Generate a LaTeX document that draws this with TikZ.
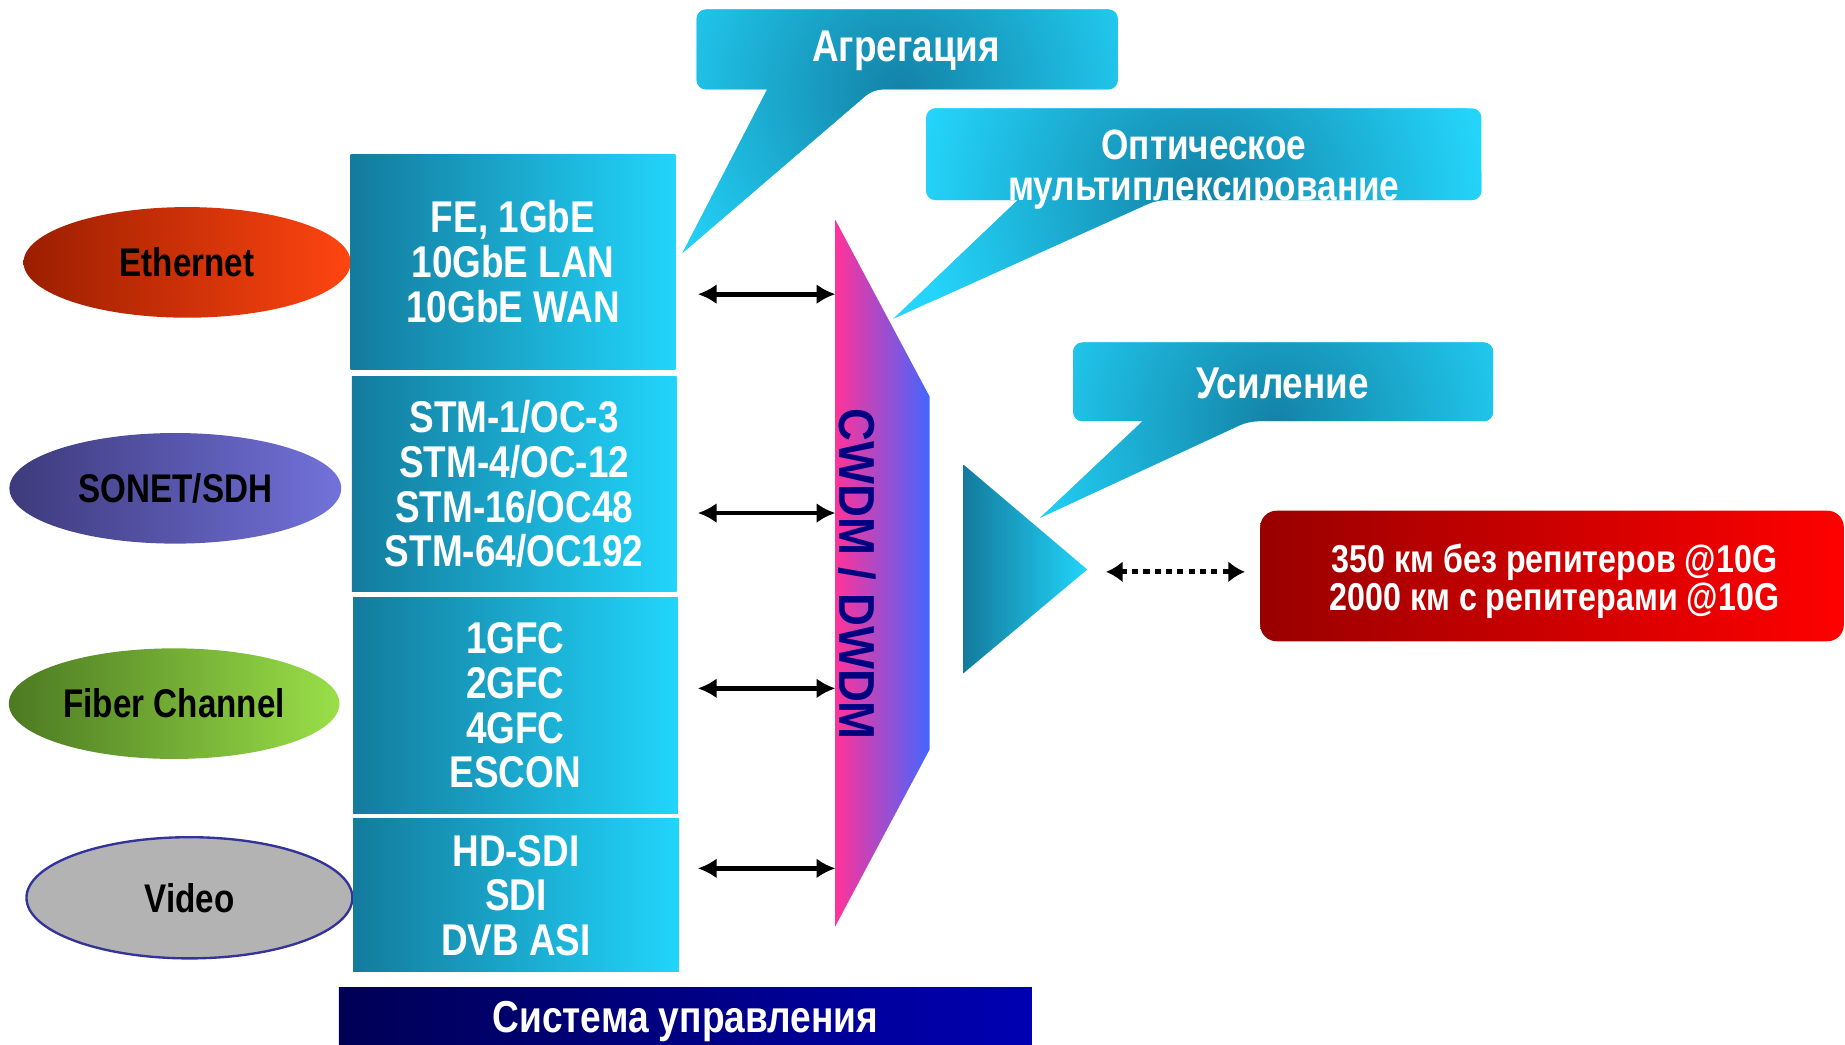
\documentclass[tikz,border=0pt]{standalone}
\usepackage{fontspec}
\setmainfont{Liberation Sans}[FakeStretch=0.83]
\newfontfamily\muxfont{Liberation Sans}[FakeStretch=0.9]
\usetikzlibrary{shapes.geometric,arrows.meta}

\definecolor{boxdark}{HTML}{137B9D}
\definecolor{boxlight}{HTML}{22D5FB}
\definecolor{calldark}{HTML}{1382A6}
\definecolor{calllight}{HTML}{24D4FA}
\definecolor{ethdark}{HTML}{9B1E00}
\definecolor{ethlight}{HTML}{FF4511}
\definecolor{sdhdark}{HTML}{3E3A7C}
\definecolor{sdhlight}{HTML}{7272DA}
\definecolor{fcdark}{HTML}{4C7A22}
\definecolor{fclight}{HTML}{9ADF48}
\definecolor{videogray}{HTML}{B3B3B3}
\definecolor{videoline}{HTML}{333399}
\definecolor{muxpink}{HTML}{FF3399}
\definecolor{muxblue}{HTML}{4466FF}
\definecolor{muxtext}{HTML}{000080}
\definecolor{reachdark}{HTML}{990000}
\definecolor{reachlight}{HTML}{FF0000}
\definecolor{mgmtdark}{HTML}{000055}
\definecolor{mgmtlight}{HTML}{0000B2}

\tikzset{
 service/.style = {ellipse, inner sep=0pt, minimum width=139pt,
           minimum height=47pt, font=\fontsize{17pt}{17pt}\selectfont\bfseries},
 client/.style = {rectangle, inner sep=0pt, minimum width=138pt,
           left color=boxdark, right color=boxlight, text=white, align=center,
           font=\fontsize{18.9pt}{19pt}\selectfont\bfseries},
 muxlabel/.style = {rotate=-90, text=muxtext,
           font=\muxfont\fontsize{21.5pt}{21.5pt}\selectfont\bfseries},
 note/.style = {text=white, align=center,
           font=\fontsize{18.9pt}{17.5pt}\selectfont\bfseries},
 reachbox/.style = {rectangle, rounded corners=7pt, inner sep=0pt,
           minimum width=248pt, minimum height=55.5pt,
           left color=reachdark, right color=reachlight},
 reachtext/.style = {text=white, align=center,
           font=\fontsize{16.5pt}{16.5pt}\selectfont\bfseries},
 mgmtbar/.style = {rectangle, inner sep=0pt, minimum width=294.5pt,
           minimum height=29pt, left color=mgmtdark, right color=mgmtlight,
           text=white, font=\fontsize{19pt}{19pt}\selectfont\bfseries},
 biarrow/.style = {{Latex[length=8pt,width=8.5pt]}-{Latex[length=8pt,width=8.5pt]},
           line width=2pt},
 dotarrow/.style = {{Latex[length=7pt,width=9pt]}-{Latex[length=7pt,width=9pt]},
           line width=2.2pt, dash pattern=on 2.6pt off 2.2pt}
}

\begin{document}
\begin{tikzpicture}[x=0.5pt, y=-0.5pt]
  \useasboundingbox (0,0) rectangle (1568,888);

  % Services
  \node[service, left color=ethdark, right color=ethlight] (eth) at (159,223)
  {Ethernet};
  \node[service, left color=sdhdark, right color=sdhlight, minimum width=141pt]
  (sdh) at (149,415) {SONET/SDH};
  \node[service, left color=fcdark, right color=fclight, minimum width=140.5pt]
  (fc) at (148,598) {Fiber Channel};
  \node[service, fill=videogray, draw=videoline, line width=1pt,
    minimum width=138.5pt, minimum height=51.5pt] (video) at (161,763)
  {Video};

  % Interfaces
  \node[client, minimum height=91.5pt] (fe) at (436,222.5)
  {FE, 1GbE\\10GbE LAN\\10GbE WAN};
  \node[client, minimum height=91.5pt] (stm) at (437,411.5)
  {STM-1/OC-3\\STM-4/OC-12\\STM-16/OC48\\STM-64/OC192};
  \node[client, minimum height=91.5pt] (gfc) at (438,599.5)
  {1GFC\\2GFC\\4GFC\\ESCON};
  \node[client, minimum height=65pt, minimum width=138.5pt] (sdi) at (438.5,761)
  {HD-SDI\\SDI\\DVB ASI};

  % Multiplexer
  \shade[left color=muxpink, right color=muxblue]
  (710,187) -- (790,337) -- (790,637) -- (710,787) -- cycle;
  \node[muxlabel] (mux) at (729,488) {CWDM / DWDM};

  \coordinate (s1) at (593,250); \coordinate (m1) at (710,250);
  \coordinate (s2) at (593,436); \coordinate (m2) at (710,436);
  \coordinate (s3) at (593,585); \coordinate (m3) at (710,585);
  \coordinate (s4) at (593,738); \coordinate (m4) at (710,738);
  \draw[biarrow] (s1) -- (m1);
  \draw[biarrow] (s2) -- (m2);
  \draw[biarrow] (s3) -- (m3);
  \draw[biarrow] (s4) -- (m4);

  % Amplifier
  \shade[left color=boxdark, right color=boxlight]
  (819,395) -- (819,572) -- (924,484) -- cycle;
  \coordinate (d1) at (940,486); \coordinate (d2) at (1058,486);
  \draw[dotarrow] (d1) -- (d2);

  \node[reachbox] (reach) at (1319,489.5) {};
  \node[reachtext] (reachtxt) at (1321,494)
  {350 км без репитеров @10G\\2000 км с репитерами @10G};

  % Callouts
  \begin{scope}
    \clip (652,76) [rounded corners=4pt] -- (592,76) -- (592,8) -- (950,8)
    -- (950,76) -- (742,76) [sharp corners] -- (580,215) -- cycle;
    \fill[calllight] (560,0) rectangle (970,230);
    \shade[inner color=calldark, outer color=calllight]
    (765,78) circle[radius=115pt];
  \end{scope}
  \node[note] (agg) at (770,43) {Агрегация};

  \begin{scope}
    \clip (865,170) [rounded corners=4pt] -- (787,170) -- (787,92) -- (1259,92)
    -- (1259,170) -- (983,170) [sharp corners] -- (759,271) -- cycle;
    \fill[calllight] (740,80) rectangle (1280,290);
    \shade[inner color=calldark, outer color=calllight]
    (1020,170) circle[radius=120pt];
  \end{scope}
  \node[note, font=\fontsize{18pt}{17.5pt}\selectfont\bfseries] (omux)
  at (1023,144) {Оптическое\\мультиплексирование};

  \begin{scope}
    \clip (971,358) [rounded corners=4pt] -- (912,358) -- (912,291) -- (1269,291)
    -- (1269,358) -- (1061,358) [sharp corners] -- (884,440) -- cycle;
    \fill[calllight] (870,280) rectangle (1290,460);
    \shade[inner color=calldark, outer color=calllight]
    (1085,360) circle[radius=115pt];
  \end{scope}
  \node[note] (ampl) at (1090,326) {Усиление};

  % Management
  \node[mgmtbar] (mgmt) at (582.5,868) {Система управления};
\end{tikzpicture}
\end{document}
